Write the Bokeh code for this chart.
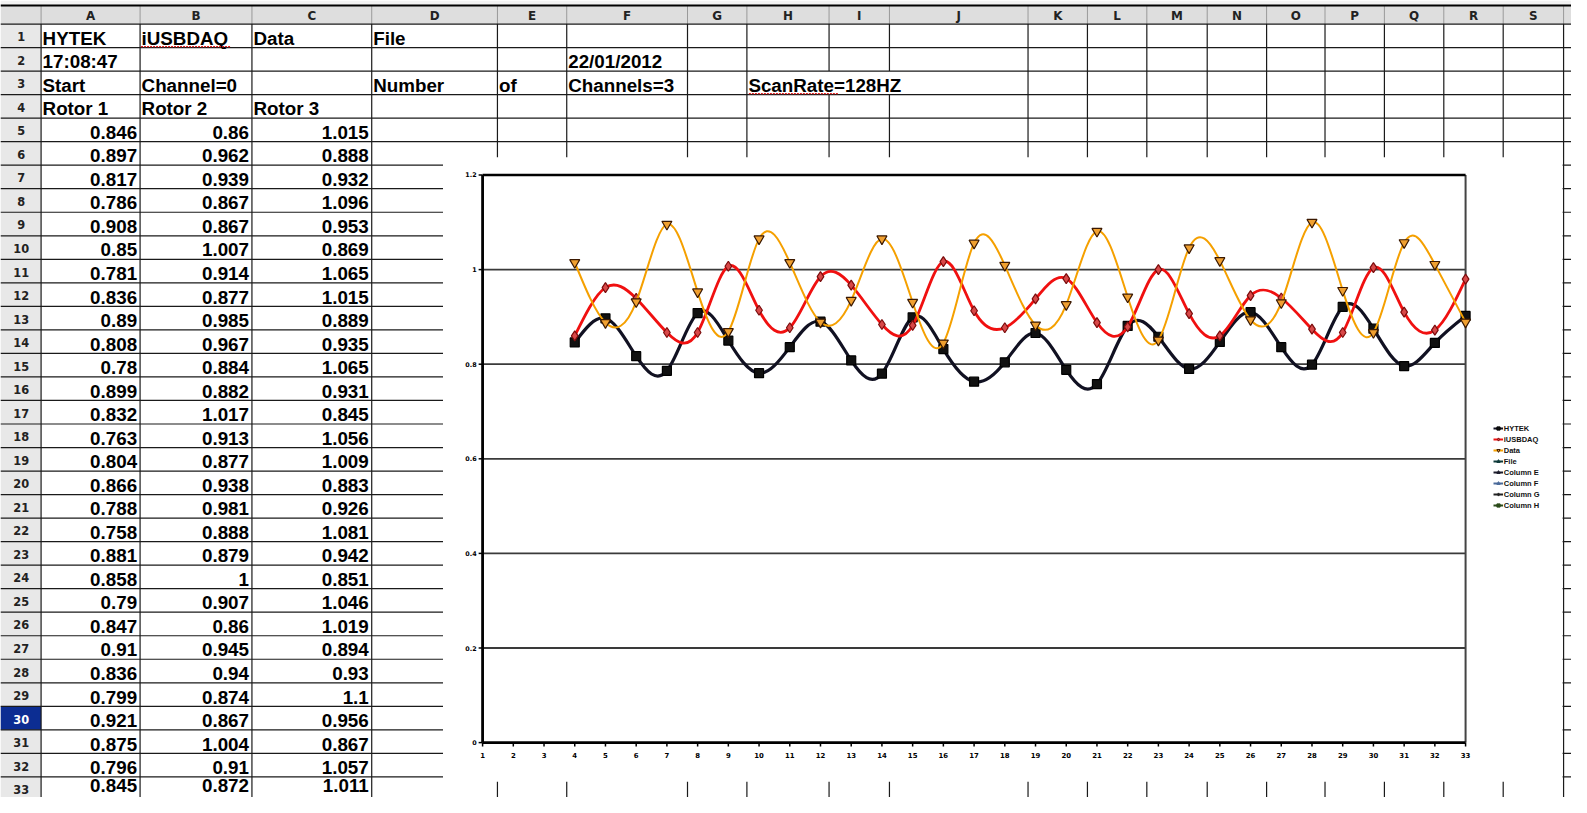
import numpy as np
from bokeh.plotting import figure
from bokeh.models import Range1d, ColumnDataSource, Legend, LegendItem
from bokeh.core.properties import value
from bokeh.embed import file_html
from bokeh.resources import INLINE

# ---------------- data ----------------
col_letters = list("ABCDEFGHIJKLMNOPQRS")
row_numbers = list(range(1, 34))

# text cells of rows 1-4: (row, column, text)
top_cells = [
    (1, "A", "HYTEK"), (1, "B", "iUSBDAQ"), (1, "C", "Data"), (1, "D", "File"),
    (2, "A", "17:08:47"), (2, "F", "22/01/2012"),
    (3, "A", "Start"), (3, "B", "Channel=0"), (3, "D", "Number"), (3, "E", "of"),
    (3, "F", "Channels=3"), (3, "H", "ScanRate=128HZ"),
    (4, "A", "Rotor 1"), (4, "B", "Rotor 2"), (4, "C", "Rotor 3"),
]

# sheet rows 5..34 (row 34 is below the window)
rotor1 = [0.846, 0.897, 0.817, 0.786, 0.908, 0.85, 0.781, 0.836, 0.89, 0.808,
          0.78, 0.899, 0.832, 0.763, 0.804, 0.866, 0.788, 0.758, 0.881, 0.858,
          0.79, 0.847, 0.91, 0.836, 0.799, 0.921, 0.875, 0.796, 0.845, 0.902]
rotor2 = [0.86, 0.962, 0.939, 0.867, 0.867, 1.007, 0.914, 0.877, 0.985, 0.967,
          0.884, 0.882, 1.017, 0.913, 0.877, 0.938, 0.981, 0.888, 0.879, 1,
          0.907, 0.86, 0.945, 0.94, 0.874, 0.867, 1.004, 0.91, 0.872, 0.98]
rotor3 = [1.015, 0.888, 0.932, 1.096, 0.953, 0.869, 1.065, 1.015, 0.889, 0.935,
          1.065, 0.931, 0.845, 1.056, 1.009, 0.883, 0.926, 1.081, 0.942, 0.851,
          1.046, 1.019, 0.894, 0.93, 1.1, 0.956, 0.867, 1.057, 1.011, 0.889]
first_data_row = 5
visible_rows = 29          # rows 5..33 are on screen
chart_x = list(range(4, 34))

series_names = ["HYTEK", "iUSBDAQ", "Data"]
empty_series = ["File", "Column E", "Column F", "Column G", "Column H"]

x_ticks = list(range(1, 34))
y_ticks = [0, 0.2, 0.4, 0.6, 0.8, 1.0, 1.2]
y_tick_labels = ["0", "0.2", "0.4", "0.6", "0.8", "1", "1.2"]

# ---------------- geometry (in screenshot pixels of the original) ----------------
W, H = 1571, 797
SW, SH = 1587, 813                  # the sheet view is squeezed into the figure
K = W / SW
COL_EDGES = [41, 141, 254, 375, 502, 572, 694, 754, 837, 898, 1038, 1098,
             1158, 1219, 1279, 1338, 1398, 1458, 1518, 1579]
ROW_TOP, ROW_H = 24, 24
HEAD_TOP = 5
CELL_FONT = value("Liberation Sans")
HEAD_FONT = value("DejaVu Sans")


def fs(px):
    return f"{px * K:.1f}px"


# chart placement
CH_BOX = (447, 1578, 160, 797)      # white chart object
FX0, FX1 = 487, 1480                # x = 1 and x = 33
FY0, FY1 = 757, 178                 # y = 0 and y = 1.2
LEG_LEFT, LEG_BOTTOM = 1508, 520

p = figure(width=W, height=H, output_backend="svg", toolbar_location=None,
           x_range=Range1d(0, SW), y_range=Range1d(SH, 0),
           x_axis_location=None, y_axis_location=None, min_border=0)
p.outline_line_color = None
p.grid.visible = False
p.background_fill_color = "white"

sx = (FX1 - FX0) / (x_ticks[-1] - x_ticks[0])
sy = (FY0 - FY1) / (y_ticks[-1] - y_ticks[0])
p.extra_x_ranges = {"cx": Range1d(x_ticks[0] - FX0 / sx, x_ticks[-1] + (SW - FX1) / sx)}
p.extra_y_ranges = {"cy": Range1d(y_ticks[0] - (SH - FY0) / sy, y_ticks[-1] + FY1 / sy)}
C = dict(x_range_name="cx", y_range_name="cy")


def row_top(r):
    return ROW_TOP + (r - 1) * ROW_H


def text_y(r):
    # the last row sits on the window edge: lift it a little so it stays whole
    return row_top(r) + 14.5 - (6 if r == row_numbers[-1] else 0)


# ---- sheet background and headers ----
p.quad(left=0, right=SW, top=0, bottom=HEAD_TOP, fill_color="#f2f2f2", line_color=None)
p.quad(left=0, right=SW, top=HEAD_TOP, bottom=ROW_TOP, fill_color="#dedede", line_color=None)
p.quad(left=0, right=COL_EDGES[0], top=ROW_TOP, bottom=SH, fill_color="#e8e8e8", line_color=None)
sel = 30
p.quad(left=0, right=COL_EDGES[0], top=row_top(sel), bottom=row_top(sel) + ROW_H,
       fill_color="#0c2d92", line_color=None)

# grid lines
hx = list(COL_EDGES)
p.segment(x0=hx, x1=hx, y0=[HEAD_TOP] * len(hx), y1=[ROW_TOP] * len(hx), line_color="#9a9a9a", line_width=1)
vx0, vx1, vy0, vy1 = [], [], [], []
for e in COL_EDGES:
    if e in (837, 898):     # overflowing text of row 3 hides these lines there
        vx0 += [e, e]; vx1 += [e, e]
        vy0 += [ROW_TOP, row_top(4)]; vy1 += [row_top(3), SH]
    else:
        vx0.append(e); vx1.append(e); vy0.append(ROW_TOP); vy1.append(SH)
p.segment(x0=vx0, x1=vx1, y0=vy0, y1=vy1, line_color="#1a1a1a", line_width=1.2)
hy = [row_top(r) for r in range(1, 35)]
p.segment(x0=[0] * len(hy), x1=[SW] * len(hy), y0=hy, y1=hy, line_color="#1a1a1a", line_width=1.2)
p.segment(x0=[0], x1=[SW], y0=[HEAD_TOP], y1=[HEAD_TOP], line_color="black", line_width=2)

# column letters and row numbers
p.text(x=[(COL_EDGES[i] + COL_EDGES[i + 1]) / 2 for i in range(len(col_letters))],
       y=[(HEAD_TOP + ROW_TOP) / 2 + 1] * len(col_letters), text=col_letters,
       text_align="center", text_baseline="middle", text_font=HEAD_FONT,
       text_font_style="bold", text_font_size=fs(12), text_color="#222222")
p.text(x=[21] * len(row_numbers), y=[row_top(r) + ROW_H / 2 + 1 for r in row_numbers],
       text=[str(r) for r in row_numbers],
       text_color=["white" if r == sel else "#222222" for r in row_numbers],
       text_align="center", text_baseline="middle", text_font=HEAD_FONT,
       text_font_style="bold", text_font_size=fs(11.5))

# text cells
p.text(x=[COL_EDGES[col_letters.index(c)] + 1.5 for _, c, _ in top_cells],
       y=[text_y(r) for r, _, _ in top_cells], text=[t for _, _, t in top_cells],
       text_align="left", text_baseline="middle", text_font=CELL_FONT,
       text_font_style="bold", text_font_size=fs(19), text_color="black")
# spell-check marks
p.segment(x0=[142, 756], x1=[232, 846], y0=[47, 95], y1=[47, 95],
          line_color="#e02020", line_width=1.3, line_dash="2 1")

# numeric cells, right aligned
nx, ny, nt = [], [], []
for ci, vals in enumerate([rotor1, rotor2, rotor3]):
    for k in range(visible_rows):
        nx.append(COL_EDGES[ci + 1] - 3)
        ny.append(text_y(first_data_row + k))
        nt.append(f"{vals[k]:g}")
p.text(x=nx, y=ny, text=nt, text_align="right", text_baseline="middle",
       text_font=CELL_FONT, text_font_style="bold", text_font_size=fs(19), text_color="black")

# ---- chart object ----
l, r, t, b = CH_BOX
p.quad(left=l, right=r, top=t, bottom=b, fill_color="white", line_color=None)

# grid lines and walls
gy = y_ticks[1:-1]
p.segment(x0=[x_ticks[0]] * len(gy), x1=[x_ticks[-1]] * len(gy), y0=gy, y1=gy,
          line_color="#3a3a3a", line_width=1.8, **C)
p.segment(x0=[x_ticks[-1]], x1=[x_ticks[-1]], y0=[y_ticks[0]], y1=[y_ticks[-1]],
          line_color="#444444", line_width=2, **C)
p.segment(x0=[x_ticks[0]], x1=[x_ticks[-1]], y0=[y_ticks[-1]], y1=[y_ticks[-1]],
          line_color="black", line_width=2.6, **C)

# ticks
tick_px = 4
p.segment(x0=[x_ticks[0]] * len(y_ticks), x1=[x_ticks[0] - tick_px / sx] * len(y_ticks),
          y0=y_ticks, y1=y_ticks, line_color="black", line_width=1.5, **C)
p.segment(x0=x_ticks, x1=x_ticks, y0=[y_ticks[0]] * len(x_ticks),
          y1=[y_ticks[0] - tick_px / sy] * len(x_ticks), line_color="black", line_width=1.5, **C)
# axis lines
p.segment(x0=[x_ticks[0]], x1=[x_ticks[0]], y0=[y_ticks[0]], y1=[y_ticks[-1]],
          line_color="black", line_width=2.8, **C)
p.segment(x0=[x_ticks[0]], x1=[x_ticks[-1]], y0=[y_ticks[0]], y1=[y_ticks[0]],
          line_color="black", line_width=2.8, **C)

# tick labels
p.text(x=[x_ticks[0]] * len(y_ticks), y=y_ticks, text=y_tick_labels, x_offset=-6,
       text_align="right", text_baseline="middle", text_font=HEAD_FONT,
       text_font_style="bold", text_font_size=fs(6.5), text_color="black", **C)
p.text(x=x_ticks, y=[y_ticks[0]] * len(x_ticks), text=[str(v) for v in x_ticks], y_offset=12,
       text_align="center", text_baseline="middle", text_font=HEAD_FONT,
       text_font_style="bold", text_font_size=fs(7), text_color="black", **C)


def spline_segments(xs, ys):
    """natural cubic spline through the points, as bezier pieces"""
    y = np.asarray(ys, float)
    x = np.asarray(xs, float)
    n = len(y)
    A = np.zeros((n, n))
    rhs = np.zeros(n)
    A[0, 0] = A[-1, -1] = 1
    for i in range(1, n - 1):
        A[i, i - 1:i + 2] = [1, 4, 1]
        rhs[i] = 6 * (y[i + 1] - 2 * y[i] + y[i - 1])
    M = np.linalg.solve(A, rhs)
    d = y[1:] - y[:-1]
    c0 = y[:-1] + (d - (2 * M[:-1] + M[1:]) / 6) / 3
    c1 = y[1:] - (d + (M[:-1] + 2 * M[1:]) / 6) / 3
    return dict(x0=x[:-1], y0=y[:-1], x1=x[1:], y1=y[1:],
                cx0=x[:-1] + 1 / 3, cy0=c0, cx1=x[1:] - 1 / 3, cy1=c1)


styles = [
    dict(vals=rotor1, line="#111122", lw=3.2, marker="square", fill="#111111", edge="#000000", size=9),
    dict(vals=rotor2, line="#f01010", lw=2.8, marker="diamond", fill="#d84848", edge="#7a0c0c", size=10),
    dict(vals=rotor3, line="#f5a000", lw=2.0, marker="inverted_triangle", fill="#f0a030", edge="#3a1800", size=10),
]

nan = [float("nan")]
items = []
for name, st in zip(series_names, styles):
    src = ColumnDataSource(spline_segments(chart_x, st["vals"]))
    p.bezier(x0="x0", y0="y0", x1="x1", y1="y1", cx0="cx0", cy0="cy0", cx1="cx1", cy1="cy1",
             source=src, line_color=st["line"], line_width=st["lw"], line_cap="round", **C)
    p.scatter(x=chart_x, y=st["vals"], marker=st["marker"], size=st["size"],
              fill_color=st["fill"], line_color=st["edge"], line_width=1.2, **C)
    # legend keys
    ln = p.line(x=nan, y=nan, line_color=st["line"], line_width=2, **C)
    sc = p.scatter(x=nan, y=nan, marker=st["marker"], size=6,
                   fill_color=st["fill"], line_color=st["edge"], **C)
    items.append(LegendItem(label=name, renderers=[ln, sc]))

extra_styles = [("#0e3a3a", "triangle", 0), ("#1c1c2c", "triangle", np.pi / 2),
                ("#4a6a9a", "triangle", np.pi / 2), ("#222222", "diamond", 0),
                ("#2b4a1a", "square", 0)]
for name, (col, mk, ang) in zip(empty_series, extra_styles):
    ln = p.line(x=nan, y=nan, line_color=col, line_width=2, **C)
    sc = p.scatter(x=nan, y=nan, marker=mk, angle=ang, size=6, fill_color=col, line_color=col, **C)
    items.append(LegendItem(label=name, renderers=[ln, sc]))

legend = Legend(items=items, location=(LEG_LEFT * K, H - LEG_BOTTOM * H / SH), orientation="vertical",
                border_line_color=None, background_fill_alpha=0,
                label_text_font="Liberation Sans", label_text_font_style="bold",
                label_text_font_size="7.5px", label_text_color="#111111",
                glyph_width=10, glyph_height=8, label_height=8, label_standoff=1,
                spacing=2, padding=0, margin=0)
p.add_layout(legend)

open("out.html", "w").write(file_html(p, INLINE))
